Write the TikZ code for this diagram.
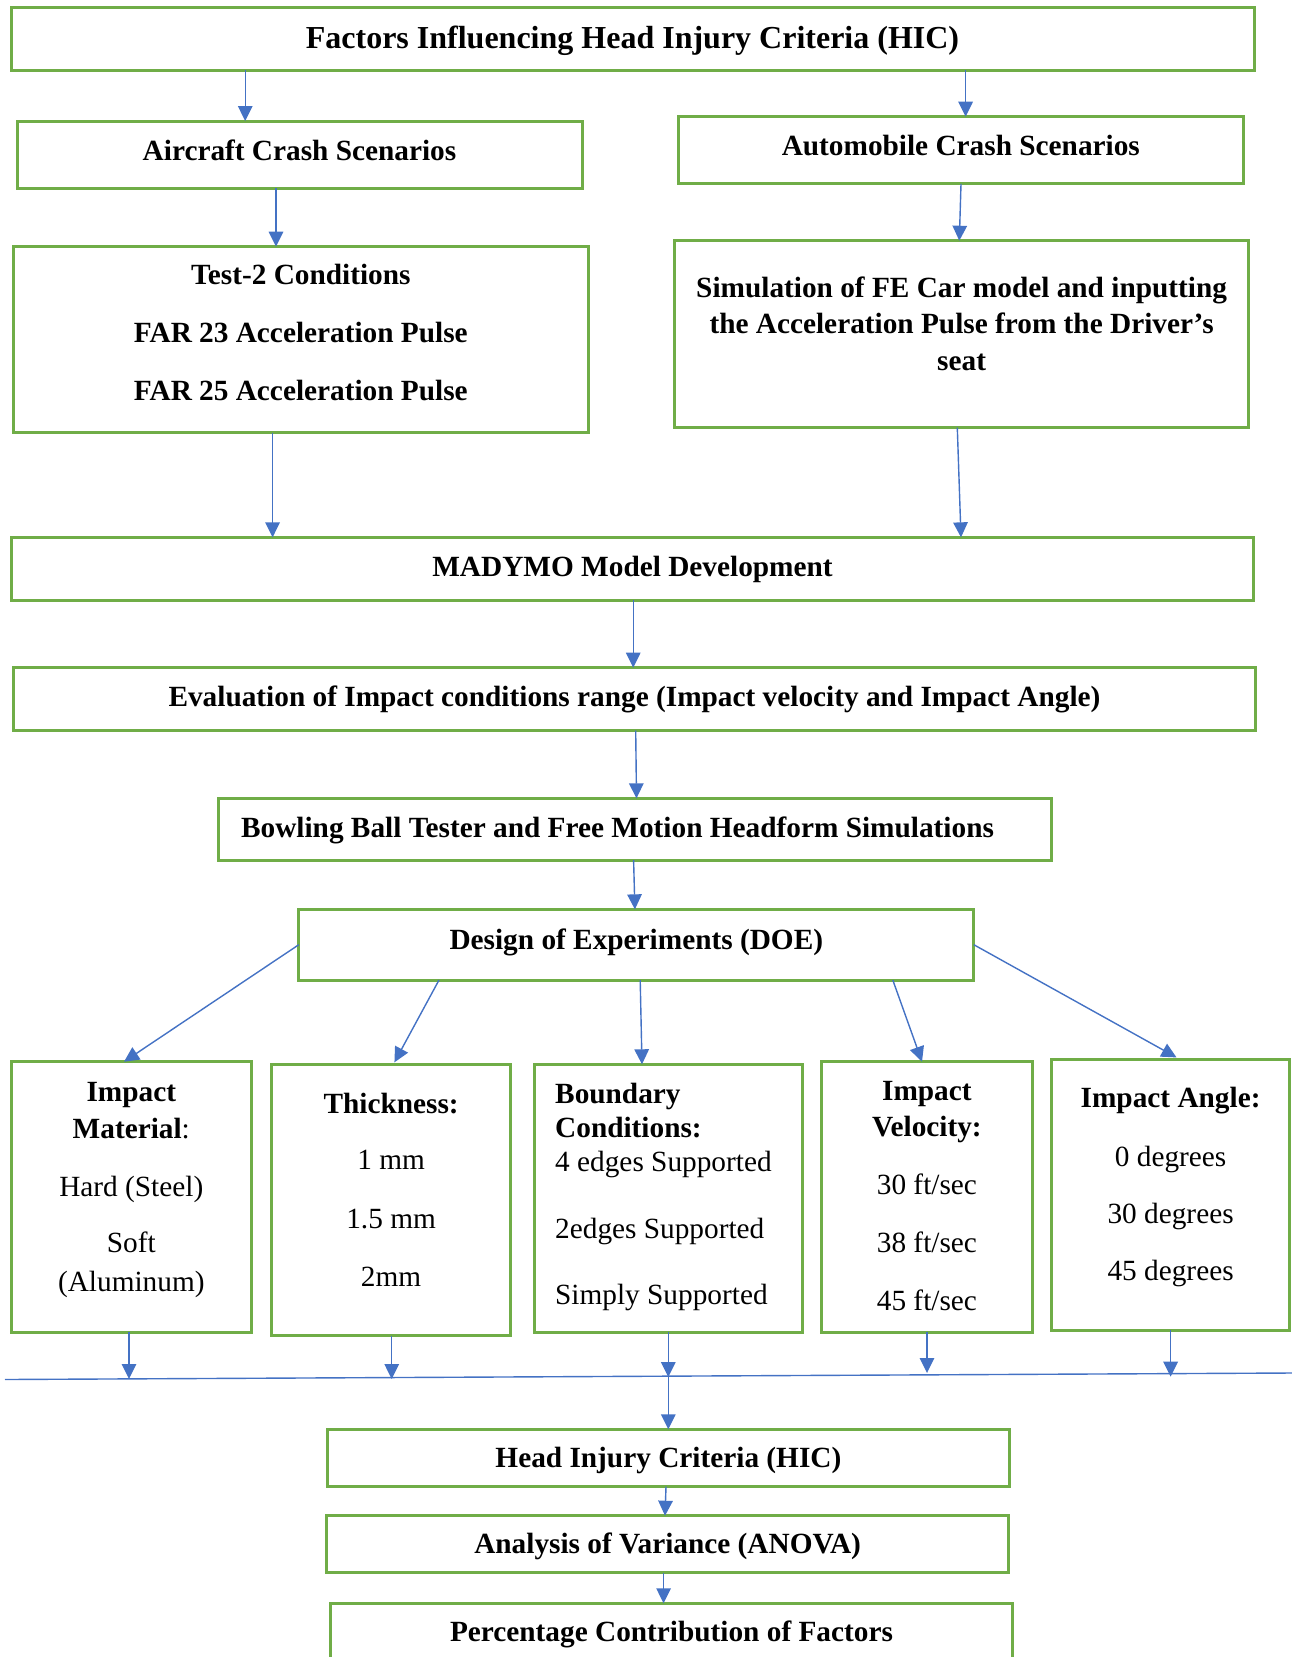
\documentclass[tikz,border=0pt]{standalone}
\usepackage{fontspec}
\setmainfont{Liberation Serif}
\usetikzlibrary{arrows.meta,calc}
\definecolor{boxgreen}{HTML}{70AD47}
\definecolor{arrblue}{HTML}{4472C4}
\tikzset{
  box/.style={draw=boxgreen, line width=3pt, inner sep=0pt, outer sep=0pt},
  bt/.style={font=\fontsize{29.3}{35}\selectfont\bfseries, text height=19.4pt, text depth=0pt},
  tb/.style={bt, inner sep=0pt},
  tr/.style={font=\fontsize{29.3}{35}\selectfont, text height=19.4pt, text depth=0pt, inner sep=0pt},
  arr/.style={draw=arrblue, line width=1.4pt, -{Triangle[length=15pt,width=14.5pt]}},
  plainline/.style={draw=arrblue, line width=1.4pt},
}
\begin{document}
\begin{tikzpicture}[x=1pt,y=-1pt]
\useasboundingbox (0,0) rectangle (1292,1657);
\clip (0,0) rectangle (1292,1657);

% boxes
\node[box, font=\fontsize{32}{38}\selectfont\bfseries, text height=21.2pt, text depth=2.6pt,
      minimum width=1243pt, minimum height=63pt] (top) at (632.5,38.8) {Factors Influencing Head Injury Criteria (HIC)};
\node[box, bt, text depth=8pt, minimum width=565pt, minimum height=67pt] (ac) at (299.5,154.5) {Aircraft Crash Scenarios};
\node[box, bt, text depth=8.6pt, minimum width=564.5pt, minimum height=67.3pt] (au) at (960.8,150.3) {Automobile Crash Scenarios};
\node[box, minimum width=575pt, minimum height=186pt] (tst) at (300.8,339.7) {};
\node[box, minimum width=574pt, minimum height=187pt] (sim) at (961.6,334.2) {};
\node[box, bt, text depth=4pt, minimum width=1241.7pt, minimum height=62.7pt] (mad) at (632.5,568.7) {MADYMO Model Development};
\node[box, bt, text depth=5pt, minimum width=1241.7pt, minimum height=63pt] (evl) at (634.5,699.2) {Evaluation of Impact conditions range (Impact velocity and Impact Angle)};
\node[box, minimum width=833pt, minimum height=61.7pt] (bow) at (634.6,829.2) {};
\node[box, bt, text depth=9.5pt, minimum width=675pt, minimum height=70.7pt] (doe) at (636.3,944.7) {Design of Experiments (DOE)};
\node[box, minimum width=239.4pt, minimum height=270.6pt] (mat) at (131.3,1197) {};
\node[box, minimum width=238.6pt, minimum height=270.7pt] (thk) at (391.1,1200.3) {};
\node[box, minimum width=268.2pt, minimum height=268pt] (bnd) at (668.1,1198.3) {};
\node[box, minimum width=210.4pt, minimum height=270.6pt] (vel) at (926.9,1197) {};
\node[box, minimum width=237.9pt, minimum height=270.7pt] (ang) at (1170.6,1194.7) {};
\node[box, bt, minimum width=682.3pt, minimum height=57.4pt] (hic) at (668.4,1458) {Head Injury Criteria (HIC)};
\node[box, bt, minimum width=682pt, minimum height=57pt] (ano) at (667.6,1544.2) {Analysis of Variance (ANOVA)};
\node[box, bt, minimum width=682.8pt, minimum height=57pt] (pct) at (671.5,1631.8) {Percentage Contribution of Factors};

% texts placed inside boxes
\node[tb] (bow1) at (617.5,827.5) {Bowling Ball Tester and Free Motion Headform Simulations};

\node[tb] (tst1) at (300.8,274.5) {Test-2 Conditions};
\node[tb] (tst2) at (300.8,332.8) {FAR 23 Acceleration Pulse};
\node[tb] (tst3) at (300.8,390.8) {FAR 25 Acceleration Pulse};

\node[tb] (sim1) at (961.6,287.3) {Simulation of FE Car model and inputting};
\node[tb] (sim2) at (961.6,323.6) {the Acceleration Pulse from the Driver’s};
\node[tb] (sim3) at (961.6,360.6) {seat};

\node[tb] (mat1) at (131.3,1092.2) {Impact};
\node[tb] (mat2) at (131.3,1128.3) {Material{\mdseries :}};
\node[tr] (mat3) at (131.3,1186.3) {Hard (Steel)};
\node[tr] (mat4) at (131.3,1243) {Soft};
\node[tr] (mat5) at (131.3,1281.3) {(Aluminum)};

\node[tb] (thk1) at (391.1,1103.3) {Thickness:};
\node[tr] (thk2) at (391.1,1160) {1 mm};
\node[tr] (thk3) at (391.1,1218.3) {1.5 mm};
\node[tr] (thk4) at (391.1,1276.3) {2mm};

\node[tb, anchor=west] (bnd1) at (555,1093.7) {Boundary};
\node[tb, anchor=west] (bnd2) at (555,1127.3) {Conditions:};
\node[tr, anchor=west] (bnd3) at (555,1161.3) {4 edges Supported};
\node[tr, anchor=west] (bnd4) at (555,1228.3) {2edges Supported};
\node[tr, anchor=west] (bnd5) at (555,1295) {Simply Supported};

\node[tb] (vel1) at (926.9,1090.8) {Impact};
\node[tb] (vel2) at (926.9,1126.7) {Velocity:};
\node[tr] (vel3) at (926.9,1185) {30 ft/sec};
\node[tr] (vel4) at (926.9,1242.3) {38 ft/sec};
\node[tr] (vel5) at (926.9,1300.7) {45 ft/sec};

\node[tb] (ang1) at (1170.6,1097.7) {Impact Angle:};
\node[tr] (ang2) at (1170.6,1156.3) {0 degrees};
\node[tr] (ang3) at (1170.6,1213.7) {30 degrees};
\node[tr] (ang4) at (1170.6,1270.3) {45 degrees};

% collecting line
\coordinate (L1) at (5,1379.5);
\coordinate (L2) at (1292,1373);
\draw[plainline] (L1) -- (L2);
\coordinate (jm) at (129,1379);
\coordinate (jt) at (391.7,1379);
\coordinate (jb) at (668.3,1377);
\coordinate (jv) at (927,1373);
\coordinate (ja) at (1170.6,1376.7);

% connectors
\draw[arr] (top.south -| 245.2,0) -- (ac.north -| 245.2,0);
\draw[arr] (top.south -| 965.6,0) -- (au.north -| 965.6,0);
\draw[arr] (ac.south -| 276,0) -- (tst.north -| 276,0);
\draw[arr] (au.south -| 961,0) -- (sim.north -| 959.3,0);
\draw[arr] (tst.south -| 272.6,0) -- (mad.north -| 272.6,0);
\draw[arr] (sim.south -| 957.3,0) -- (mad.north -| 961,0);
\draw[arr] (mad.south -| 633.2,0) -- (evl.north -| 633.2,0);
\draw[arr] (evl.south -| 635.7,0) -- (bow.north -| 636.5,0);
\draw[arr] (bow.south -| 633.6,0) -- (doe.north -| 634.9,0);

\draw[arr] (doe.west) -- (mat.north -| 124,0);
\draw[arr, shorten >=3pt] (doe.south -| 439,0) -- (thk.north -| 393,0);
\draw[arr] (doe.south -| 640.2,0) -- (bnd.north -| 642,0);
\draw[arr] (doe.south -| 892.8,0) -- (vel.north -| 922,0);
\draw[arr, shorten >=4pt] (doe.east) -- (ang.north -| 1180,0);

\draw[arr] (mat.south -| jm) -- (jm);
\draw[arr] (thk.south -| jt) -- (jt);
\draw[arr] (bnd.south -| jb) -- (jb);
\draw[arr] (jb) -- (hic.north -| jb);
\draw[arr] (vel.south -| jv) -- (jv);
\draw[arr] (ang.south -| ja) -- (ja);

\draw[arr] (hic.south -| 666,0) -- (ano.north -| 665,0);
\draw[arr] (ano.south -| 663.6,0) -- (pct.north -| 663.6,0);
\end{tikzpicture}
\end{document}
